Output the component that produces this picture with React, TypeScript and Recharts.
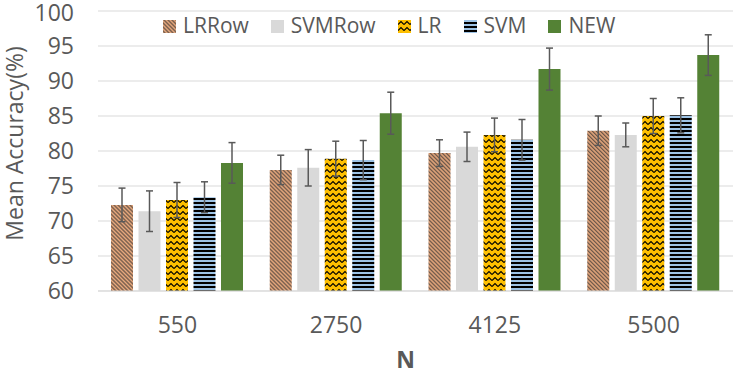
import React from 'react';
import { BarChart, Bar, XAxis, YAxis, CartesianGrid, ErrorBar, Legend, Label } from 'recharts';

const categories = ['550', '2750', '4125', '5500'];
const seriesNames = ['LRRow', 'SVMRow', 'LR', 'SVM', 'NEW'];
const lrrow = [72.3, 77.3, 79.7, 82.9];
const lrrowErr = [2.4, 2.1, 1.9, 2.1];
const svmrow = [71.4, 77.6, 80.6, 82.3];
const svmrowErr = [2.9, 2.6, 2.1, 1.7];
const lr = [73.0, 78.9, 82.3, 85.0];
const lrErr = [2.5, 2.5, 2.4, 2.5];
const svm = [73.4, 78.7, 81.6, 85.1];
const svmErr = [2.2, 2.8, 2.9, 2.5];
const newv = [78.3, 85.4, 91.7, 93.7];
const newErr = [2.9, 3.0, 3.0, 2.9];
const yTicks = [60, 65, 70, 75, 80, 85, 90, 95, 100];

const data = categories.map((c, i) => ({
  n: c,
  LRRow: lrrow[i], lrrowErr: lrrowErr[i],
  SVMRow: svmrow[i], svmrowErr: svmrowErr[i],
  LR: lr[i], lrErr: lrErr[i],
  SVM: svm[i], svmErr: svmErr[i],
  NEW: newv[i], newErr: newErr[i],
}));

const FONT = '"Open Sans", "Segoe UI", sans-serif';
const TEXT = '#595959';
const ERR = '#595959';

const renderLegend = (props: any) => {
  const payload = [...(props.payload || [])].sort(
    (a: any, b: any) => seriesNames.indexOf(a.value) - seriesNames.indexOf(b.value)
  );
  return (
    <div style={{ display: 'flex', alignItems: 'center', fontFamily: FONT, fontSize: 21, lineHeight: '29px', color: TEXT }}>
      {payload.map((e: any) => (
        <div key={e.value} style={{ display: 'flex', alignItems: 'center', marginRight: 22 }}>
          <svg width={13} height={13} style={{ marginRight: 7, marginTop: 2 }}>
            <rect x={0} y={0} width={13} height={13} fill={e.color} />
          </svg>
          <span>{e.value}</span>
        </div>
      ))}
    </div>
  );
};

const YTitle = () => (
  <text x={23.3} y={143.5} transform="rotate(-90 23.3 143.5)" textAnchor="middle" fill={TEXT} fontSize={23} fontFamily={FONT}>
    Mean Accuracy(%)
  </text>
);

export default function App() {
  return (
    <div style={{ position: 'absolute', left: 0, top: 0, width: 735, height: 379, background: '#fff', fontFamily: FONT }}>
      <BarChart width={735} height={379} data={data} margin={{ top: 11, right: 2, bottom: 0, left: 0 }} barCategoryGap={13} barGap={5.5}>
        <defs>
          <pattern id="pLRRow" patternUnits="userSpaceOnUse" width={2.83} height={2.83} patternTransform="rotate(-45)">
            <rect x={0} y={0} width={2.83} height={2.83} fill="#f4b183" />
            <rect x={0} y={0} width={1.42} height={2.83} fill="#6b5648" />
          </pattern>
          <pattern id="pLR" patternUnits="userSpaceOnUse" width={6} height={6}>
            <rect x={0} y={0} width={6} height={6} fill="#ffc000" />
            <path d="M0,4.5 L3,1.5 L6,4.5" stroke="#000" strokeWidth={1.1} fill="none" />
          </pattern>
          <pattern id="pSVM" patternUnits="userSpaceOnUse" width={4} height={4}>
            <rect x={0} y={0} width={4} height={2} fill="#9dc3e6" />
            <rect x={0} y={2} width={4} height={2} fill="#000" />
          </pattern>
        </defs>
        <CartesianGrid vertical={false} stroke="#d9d9d9" strokeWidth={1} />
        <XAxis
          dataKey="n"
          height={88}
          tickSize={0}
          tickMargin={26}
          axisLine={{ stroke: '#d9d9d9' }}
          tickLine={false}
          tick={{ fill: TEXT, fontSize: 23, fontFamily: FONT }}
        >
          <Label value="N" position="insideBottom" offset={11} dx={-10} fill={TEXT} fontSize={23} fontWeight="bold" fontFamily={FONT} />
        </XAxis>
        <YAxis
          width={98}
          domain={[60, 100]}
          ticks={yTicks}
          allowDataOverflow
          tickSize={0}
          tickMargin={24}
          axisLine={false}
          tickLine={false}
          tick={{ fill: TEXT, fontSize: 23, fontFamily: FONT }}
          label={<YTitle />}
        />
        <Legend
          content={renderLegend}
          layout="horizontal"
          verticalAlign="middle"
          align="center"
          wrapperStyle={{ top: 11, left: 163, width: 520 }}
        />
        <Bar dataKey="LRRow" fill="url(#pLRRow)" isAnimationActive={false}>
          <ErrorBar dataKey="lrrowErr" width={3.5} stroke={ERR} strokeWidth={1.5} direction="y" isAnimationActive={false} />
        </Bar>
        <Bar dataKey="SVMRow" fill="#d9d9d9" isAnimationActive={false}>
          <ErrorBar dataKey="svmrowErr" width={3.5} stroke={ERR} strokeWidth={1.5} direction="y" isAnimationActive={false} />
        </Bar>
        <Bar dataKey="LR" fill="url(#pLR)" isAnimationActive={false}>
          <ErrorBar dataKey="lrErr" width={3.5} stroke={ERR} strokeWidth={1.5} direction="y" isAnimationActive={false} />
        </Bar>
        <Bar dataKey="SVM" fill="url(#pSVM)" isAnimationActive={false}>
          <ErrorBar dataKey="svmErr" width={3.5} stroke={ERR} strokeWidth={1.5} direction="y" isAnimationActive={false} />
        </Bar>
        <Bar dataKey="NEW" fill="#548235" isAnimationActive={false}>
          <ErrorBar dataKey="newErr" width={3.5} stroke={ERR} strokeWidth={1.5} direction="y" isAnimationActive={false} />
        </Bar>
      </BarChart>
    </div>
  );
}
